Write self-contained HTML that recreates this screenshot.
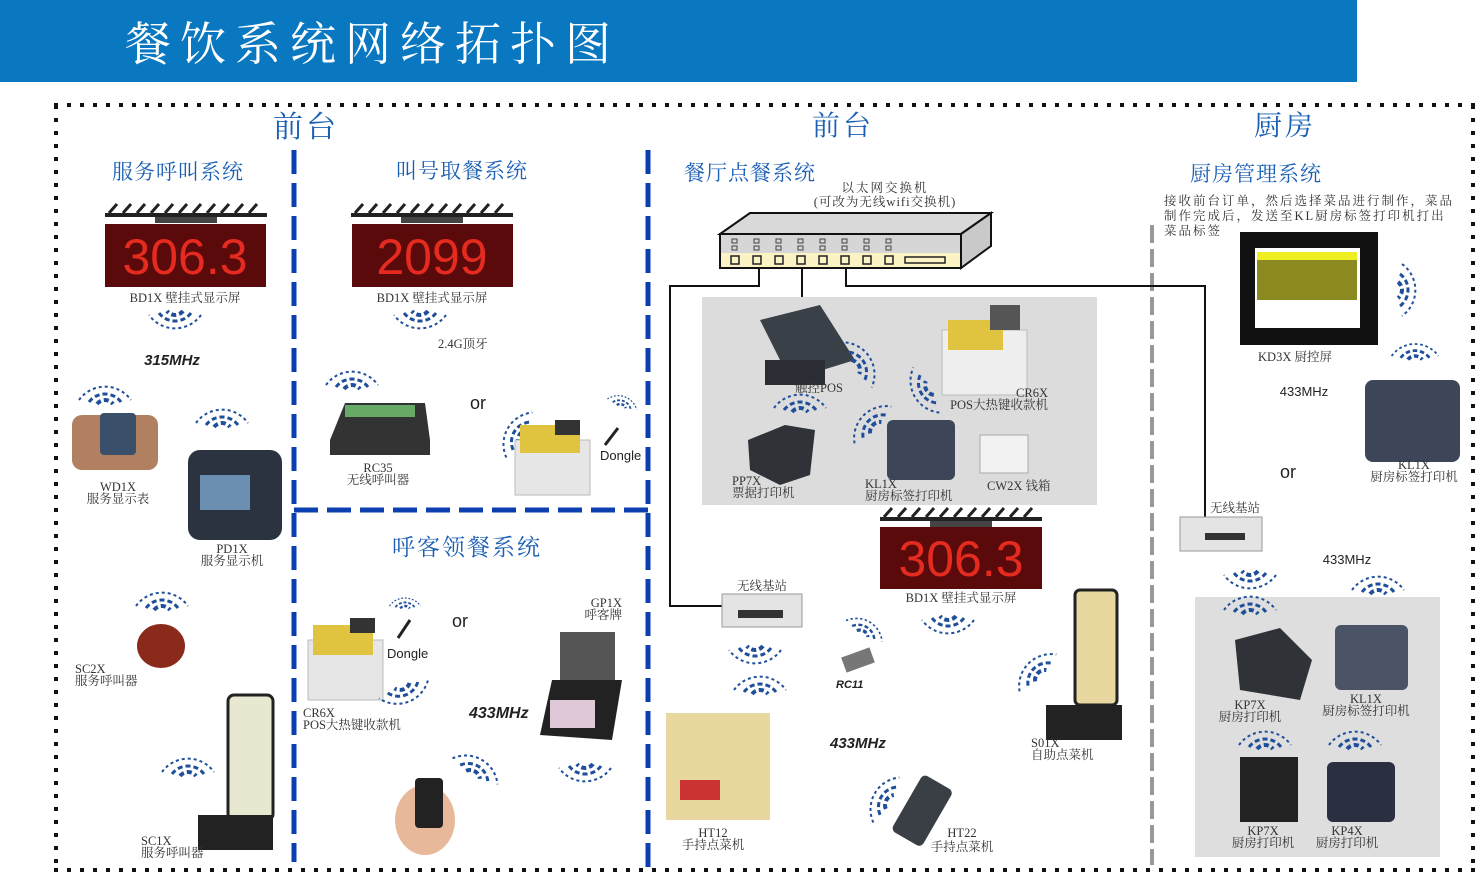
<!DOCTYPE html>
<html><head><meta charset="utf-8">
<style>
html,body{margin:0;padding:0;background:#fff;}
svg{display:block;}
.t{font-family:"Liberation Serif","Noto Serif CJK SC",serif;font-size:12.5px;fill:#333;}
.h{font-family:"Liberation Serif","Noto Serif CJK SC",serif;fill:#1a5fb4;}
.b{font-family:"Liberation Sans",sans-serif;font-weight:bold;font-style:italic;fill:#222;}
.s{font-family:"Liberation Sans",sans-serif;fill:#222;}
.led{font-family:"Liberation Sans",sans-serif;fill:#e52a1f;}
</style></head>
<body>
<svg width="1482" height="873" viewBox="0 0 1482 873" xmlns="http://www.w3.org/2000/svg">
<defs>
<g id="wf">
<path d="M-8,-6 A10,10 0 0 1 8,-6" fill="none" stroke="#1f4f9a" stroke-width="4" stroke-dasharray="5,3"/>
<path d="M-16,-8 A20,20 0 0 1 16,-8" fill="none" stroke="#1f4f9a" stroke-width="3" stroke-dasharray="5,3"/>
<path d="M-26,-10 A32,32 0 0 1 26,-10" fill="none" stroke="#1f4f9a" stroke-width="2" stroke-dasharray="3,3"/>
</g>
<g id="br">
<rect x="0" y="10" width="162" height="4" fill="#222"/>
<path d="M4,10 l8,-9 M18,10 l8,-9 M32,10 l8,-9 M46,10 l8,-9 M60,10 l8,-9 M74,10 l8,-9 M88,10 l8,-9 M102,10 l8,-9 M116,10 l8,-9 M130,10 l8,-9 M144,10 l8,-9" stroke="#222" stroke-width="3"/>
<rect x="50" y="14" width="62" height="6" fill="#444"/>
</g>
</defs>
<rect x="0" y="0" width="1357" height="82" fill="#0a78c0"/>
<text x="125" y="60" font-family="Liberation Serif,'Noto Serif CJK SC',serif" font-size="46" fill="#fff" letter-spacing="9">餐饮系统网络拓扑图</text>

<g stroke="#111" stroke-width="4" stroke-dasharray="4,9" fill="none">
<line x1="54" y1="105" x2="1475" y2="105"/>
<line x1="56" y1="105" x2="56" y2="870"/>
<line x1="54" y1="870" x2="1475" y2="870"/>
<line x1="1473" y1="105" x2="1473" y2="870"/>
</g>
<g stroke="#0b3fb0" stroke-width="5" stroke-dasharray="24,9" fill="none">
<line x1="294" y1="150" x2="294" y2="862"/>
<line x1="648" y1="150" x2="648" y2="870"/>
<line x1="294" y1="510" x2="648" y2="510"/>
</g>
<line x1="1152" y1="225" x2="1152" y2="865" stroke="#999" stroke-width="4" stroke-dasharray="18,6"/>

<text class="h" x="306" y="137" font-size="30" text-anchor="middle" letter-spacing="3">前台</text>
<text class="h" x="843" y="135" font-size="28" text-anchor="middle" letter-spacing="3">前台</text>
<text class="h" x="1285" y="135" font-size="28" text-anchor="middle" letter-spacing="3">厨房</text>

<text class="h" x="178" y="179" font-size="21" text-anchor="middle" letter-spacing="1">服务呼叫系统</text>
<use href="#br" x="105" y="203"/>
<rect x="105" y="224" width="161" height="63" fill="#5a0a0a"/>
<text class="led" x="185" y="274" font-size="50" text-anchor="middle">306.3</text>
<text class="t" x="185" y="302" text-anchor="middle">BD1X 壁挂式显示屏</text>
<use href="#wf" transform="translate(175,305) rotate(180)"/>
<text class="b" x="172" y="365" font-size="15" text-anchor="middle">315MHz</text>
<use href="#wf" x="105" y="410"/>
<rect x="72" y="415" width="86" height="55" rx="10" fill="#b08060"/>
<rect x="100" y="413" width="36" height="42" rx="4" fill="#3a4f6a"/>
<text class="t" x="118" y="491" text-anchor="middle">WD1X</text>
<text class="t" x="118" y="503" text-anchor="middle">服务显示表</text>
<use href="#wf" x="222" y="433"/>
<rect x="188" y="450" width="94" height="90" rx="12" fill="#2b3340"/>
<rect x="200" y="475" width="50" height="35" fill="#6a8fb0"/>
<text class="t" x="232" y="553" text-anchor="middle">PD1X</text>
<text class="t" x="232" y="565" text-anchor="middle">服务显示机</text>
<use href="#wf" x="162" y="616"/>
<ellipse cx="161" cy="646" rx="24" ry="22" fill="#8a2a1a"/>
<text class="t" x="75" y="673">SC2X</text>
<text class="t" x="75" y="685">服务呼叫器</text>
<use href="#wf" x="188" y="782"/>
<rect x="228" y="695" width="45" height="125" rx="6" fill="#e8e8d0" stroke="#222" stroke-width="3"/>
<rect x="198" y="815" width="75" height="35" fill="#222"/>
<text class="t" x="141" y="845">SC1X</text>
<text class="t" x="141" y="857">服务呼叫器</text>

<text class="h" x="462" y="178" font-size="21" text-anchor="middle" letter-spacing="1">叫号取餐系统</text>
<use href="#br" x="351" y="203"/>
<rect x="352" y="224" width="161" height="63" fill="#5a0a0a"/>
<text class="led" x="432" y="274" font-size="50" text-anchor="middle">2099</text>
<text class="t" x="432" y="302" text-anchor="middle">BD1X 壁挂式显示屏</text>
<use href="#wf" transform="translate(420,305) rotate(180)"/>
<text class="t" x="438" y="348" font-size="14">2.4G顶牙</text>
<use href="#wf" x="352" y="395"/>
<path d="M330,440 L345,403 L425,403 L430,440 L430,455 L330,455 Z" fill="#333"/>
<rect x="345" y="405" width="70" height="12" fill="#6a6"/>
<text class="t" x="378" y="472" text-anchor="middle">RC35</text>
<text class="t" x="378" y="484" text-anchor="middle">无线呼叫器</text>
<text class="s" x="478" y="409" font-size="18" text-anchor="middle">or</text>
<use href="#wf" transform="translate(528,440) rotate(-60)"/>
<rect x="515" y="440" width="75" height="55" fill="#e6e6e6" stroke="#bbb"/>
<rect x="520" y="425" width="60" height="28" fill="#e0c440"/>
<rect x="555" y="420" width="25" height="15" fill="#333"/>
<use href="#wf" transform="translate(620,410) rotate(20) scale(0.6)"/>
<line x1="605" y1="445" x2="618" y2="428" stroke="#222" stroke-width="3"/>
<text class="s" x="600" y="460" font-size="13">Dongle</text>

<text class="h" x="467" y="555" font-size="23" text-anchor="middle" letter-spacing="2">呼客领餐系统</text>
<use href="#wf" transform="translate(405,612) scale(0.6)"/>
<line x1="398" y1="638" x2="410" y2="620" stroke="#222" stroke-width="3"/>
<text class="s" x="387" y="658" font-size="13">Dongle</text>
<rect x="308" y="640" width="75" height="60" fill="#e6e6e6" stroke="#bbb"/>
<rect x="313" y="625" width="60" height="30" fill="#e0c440"/>
<rect x="350" y="618" width="25" height="15" fill="#333"/>
<use href="#wf" transform="translate(400,680) rotate(160)"/>
<text class="t" x="303" y="717">CR6X</text>
<text class="t" x="303" y="729">POS大热键收款机</text>
<text class="s" x="460" y="627" font-size="18" text-anchor="middle">or</text>
<text class="t" x="622" y="607" text-anchor="end">GP1X</text>
<text class="t" x="622" y="619" text-anchor="end">呼客牌</text>
<rect x="560" y="632" width="55" height="50" fill="#555"/>
<path d="M552,680 L622,680 L612,740 L540,735 Z" fill="#222"/>
<rect x="550" y="700" width="45" height="28" fill="#dfc8d8"/>
<text class="b" x="469" y="718" font-size="16">433MHz</text>
<use href="#wf" transform="translate(585,758) rotate(180)"/>
<use href="#wf" transform="translate(470,780) rotate(30)"/>
<ellipse cx="425" cy="820" rx="30" ry="35" fill="#e8b89a"/>
<rect x="415" y="778" width="28" height="50" rx="4" fill="#222"/>

<text class="h" x="684" y="180" font-size="21" letter-spacing="1">餐厅点餐系统</text>
<text class="t" x="885" y="192" font-size="15" text-anchor="middle" letter-spacing="2">以太网交换机</text>
<text class="t" x="885" y="206" text-anchor="middle" letter-spacing="1">(可改为无线wifi交换机)</text>
<path d="M720,234 L750,213 L991,213 L961,234 Z" fill="#d9d9d9" stroke="#111" stroke-width="2"/>
<path d="M961,234 L991,213 L991,246 L961,268 Z" fill="#c9c9c9" stroke="#111" stroke-width="2"/>
<rect x="720" y="234" width="241" height="34" fill="#d6d6d6" stroke="#111" stroke-width="2"/>
<rect x="721" y="253" width="239" height="14" fill="#fbf3c4"/>
<g fill="none" stroke="#222" stroke-width="1.5">
<rect x="731" y="256" width="8" height="8"/><rect x="753" y="256" width="8" height="8"/><rect x="775" y="256" width="8" height="8"/><rect x="797" y="256" width="8" height="8"/><rect x="819" y="256" width="8" height="8"/><rect x="841" y="256" width="8" height="8"/><rect x="863" y="256" width="8" height="8"/><rect x="885" y="256" width="8" height="8"/>
<rect x="905" y="257" width="40" height="6"/>
</g>
<g fill="none" stroke="#444" stroke-width="1">
<rect x="732" y="239" width="5" height="4"/><rect x="754" y="239" width="5" height="4"/><rect x="776" y="239" width="5" height="4"/><rect x="798" y="239" width="5" height="4"/><rect x="820" y="239" width="5" height="4"/><rect x="842" y="239" width="5" height="4"/><rect x="864" y="239" width="5" height="4"/><rect x="886" y="239" width="5" height="4"/>
<rect x="732" y="246" width="5" height="4"/><rect x="754" y="246" width="5" height="4"/><rect x="776" y="246" width="5" height="4"/><rect x="798" y="246" width="5" height="4"/><rect x="820" y="246" width="5" height="4"/><rect x="842" y="246" width="5" height="4"/><rect x="864" y="246" width="5" height="4"/><rect x="886" y="246" width="5" height="4"/>
</g>
<g fill="none" stroke="#111" stroke-width="2">
<polyline points="759,268 759,286 670,286 670,606 722,606"/>
<line x1="802" y1="268" x2="802" y2="297"/>
<polyline points="846,268 846,286 1205,286 1205,517"/>
</g>
<rect x="702" y="297" width="395" height="208" fill="#dcdcdc"/>
<path d="M760,320 L820,305 L855,360 L790,380 Z" fill="#3a4048"/>
<rect x="765" y="360" width="60" height="25" fill="#2a2e34"/>
<text class="t" x="795" y="392">触控POS</text>
<use href="#wf" transform="translate(850,370) rotate(60)"/>
<rect x="942" y="330" width="85" height="65" fill="#eee" stroke="#bbb"/>
<rect x="948" y="320" width="55" height="30" fill="#e0c440"/>
<rect x="990" y="305" width="30" height="25" fill="#555"/>
<use href="#wf" transform="translate(935,385) rotate(-120)"/>
<text class="t" x="1048" y="397" text-anchor="end">CR6X</text>
<text class="t" x="1048" y="409" text-anchor="end">POS大热键收款机</text>
<use href="#wf" x="800" y="418"/>
<path d="M748,440 L785,425 L815,430 L810,475 L780,485 L750,470 Z" fill="#2f3338"/>
<text class="t" x="732" y="485">PP7X</text>
<text class="t" x="732" y="497">票据打印机</text>
<use href="#wf" transform="translate(880,432) rotate(-45)"/>
<rect x="887" y="420" width="68" height="60" rx="6" fill="#3c4658"/>
<rect x="980" y="435" width="48" height="38" fill="#f2f2f2" stroke="#aaa"/>
<text class="t" x="865" y="488">KL1X</text>
<text class="t" x="865" y="500">厨房标签打印机</text>
<text class="t" x="987" y="490">CW2X 钱箱</text>

<use href="#br" x="880" y="507"/>
<rect x="880" y="527" width="162" height="62" fill="#5a0a0a"/>
<text class="led" x="961" y="576" font-size="50" text-anchor="middle">306.3</text>
<text class="t" x="961" y="602" text-anchor="middle">BD1X 壁挂式显示屏</text>
<use href="#wf" transform="translate(948,610) rotate(180)"/>

<text class="t" x="762" y="590" text-anchor="middle">无线基站</text>
<rect x="722" y="594" width="80" height="33" fill="#e4e4e4" stroke="#999"/>
<rect x="738" y="610" width="45" height="8" fill="#333"/>
<use href="#wf" transform="translate(755,640) rotate(180)"/>
<use href="#wf" transform="translate(860,638) rotate(30) scale(0.8)"/>
<rect x="843" y="652" width="30" height="16" fill="#777" transform="rotate(-20 858 660)"/>
<text class="b" x="836" y="688" font-size="11">RC11</text>
<text class="b" x="830" y="748" font-size="15">433MHz</text>
<use href="#wf" x="760" y="700"/>
<rect x="666" y="713" width="104" height="107" fill="#e8d8a0"/>
<rect x="680" y="780" width="40" height="20" fill="#c33"/>
<text class="t" x="713" y="837" text-anchor="middle">HT12</text>
<text class="t" x="713" y="849" text-anchor="middle">手持点菜机</text>
<use href="#wf" transform="translate(895,805) rotate(-60)"/>
<rect x="905" y="778" width="35" height="65" rx="5" fill="#3a3f45" transform="rotate(30 922 810)"/>
<text class="t" x="962" y="837" text-anchor="middle">HT22</text>
<text class="t" x="962" y="851" text-anchor="middle">手持点菜机</text>
<use href="#wf" transform="translate(1045,680) rotate(-45)"/>
<rect x="1075" y="590" width="42" height="115" rx="5" fill="#e8d8a0" stroke="#222" stroke-width="3"/>
<rect x="1046" y="705" width="76" height="35" fill="#222"/>
<text class="t" x="1031" y="747">S01X</text>
<text class="t" x="1031" y="759">自助点菜机</text>

<text class="h" x="1256" y="181" font-size="21" text-anchor="middle" letter-spacing="1">厨房管理系统</text>
<text class="t" x="1164" y="205" font-size="13.5" letter-spacing="2">接收前台订单，然后选择菜品进行制作，菜品</text>
<text class="t" x="1164" y="220" font-size="13.5" letter-spacing="2">制作完成后，发送至KL厨房标签打印机打出</text>
<text class="t" x="1164" y="235" font-size="13.5" letter-spacing="2">菜品标签</text>
<rect x="1240" y="232" width="138" height="113" fill="#111"/>
<rect x="1255" y="248" width="105" height="80" fill="#fff"/>
<rect x="1257" y="252" width="100" height="48" fill="#8a8a20"/>
<rect x="1257" y="252" width="100" height="8" fill="#ee2"/>
<text class="t" x="1295" y="361" text-anchor="middle">KD3X 厨控屏</text>
<use href="#wf" transform="translate(1392,290) rotate(90)"/>
<text class="s" x="1304" y="396" font-size="13" text-anchor="middle">433MHz</text>
<use href="#wf" transform="translate(1415,365) scale(0.9)"/>
<rect x="1365" y="380" width="95" height="82" rx="8" fill="#3c4658"/>
<text class="t" x="1414" y="469" text-anchor="middle">KL1X</text>
<text class="t" x="1414" y="481" text-anchor="middle">厨房标签打印机</text>
<text class="s" x="1288" y="478" font-size="18" text-anchor="middle">or</text>
<text class="t" x="1235" y="512" text-anchor="middle">无线基站</text>
<rect x="1180" y="517" width="82" height="34" fill="#e4e4e4" stroke="#999"/>
<rect x="1205" y="533" width="40" height="7" fill="#333"/>
<use href="#wf" transform="translate(1250,565) rotate(180)"/>
<text class="s" x="1347" y="564" font-size="13" text-anchor="middle">433MHz</text>
<use href="#wf" x="1378" y="600"/>
<rect x="1195" y="597" width="245" height="260" fill="#dedede"/>
<use href="#wf" x="1250" y="620"/>
<path d="M1235,640 L1280,628 L1312,660 L1300,700 L1240,690 Z" fill="#2f3338"/>
<text class="t" x="1250" y="709" text-anchor="middle">KP7X</text>
<text class="t" x="1250" y="721" text-anchor="middle">厨房打印机</text>
<rect x="1335" y="625" width="73" height="65" rx="6" fill="#4a5466"/>
<text class="t" x="1366" y="703" text-anchor="middle">KL1X</text>
<text class="t" x="1366" y="715" text-anchor="middle">厨房标签打印机</text>
<use href="#wf" x="1265" y="755"/>
<rect x="1240" y="757" width="58" height="65" fill="#222"/>
<text class="t" x="1263" y="835" text-anchor="middle">KP7X</text>
<text class="t" x="1263" y="847" text-anchor="middle">厨房打印机</text>
<use href="#wf" x="1355" y="755"/>
<rect x="1327" y="762" width="68" height="60" rx="6" fill="#2a3040"/>
<text class="t" x="1347" y="835" text-anchor="middle">KP4X</text>
<text class="t" x="1347" y="847" text-anchor="middle">厨房打印机</text>
</svg>
</body></html>
